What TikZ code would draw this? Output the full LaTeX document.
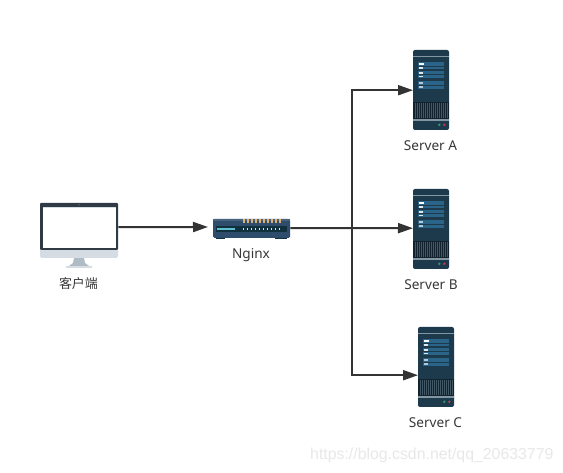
\documentclass[tikz,border=0pt]{standalone}
\usepackage{fontspec}
\setmainfont{Noto Sans}
\newfontfamily\cjkfont{Noto Sans CJK SC}
\newfontfamily\wmfont{Liberation Sans}
\usetikzlibrary{arrows.meta,calc}
\definecolor{srvbody}{HTML}{1D3A4C}
\definecolor{srvline}{HTML}{8397A2}
\definecolor{srvpanel}{HTML}{2A6488}
\definecolor{srvgrille}{HTML}{12222E}
\definecolor{monframe}{HTML}{2F3A45}
\definecolor{monchin}{HTML}{D5DCE4}
\definecolor{monstand}{HTML}{B0BCC5}
\definecolor{swbody}{HTML}{2E4C6C}
\definecolor{swdark}{HTML}{10303E}
\definecolor{swtop}{HTML}{46647F}
\definecolor{swled}{HTML}{E0B070}
\definecolor{ledgreen}{HTML}{2E9E6E}
\definecolor{ledred}{HTML}{C23A55}
\definecolor{wire}{HTML}{333333}
\tikzset{
  x=1pt,y=-1pt,
  lbl/.style={font=\fontsize{13.6}{15}\selectfont,text=black!78,inner sep=0pt,anchor=center},
  link/.style={draw=wire,line width=2pt,-{Triangle[length=15pt,width=10pt,fill=wire]}},
  trunk/.style={draw=wire,line width=2pt},
  server/.pic={
    \fill[srvbody,rounded corners=2pt] (0,0) rectangle (36,80);
    \fill[srvline] (0,6) rectangle (36,7.5);
    \fill[srvpanel] (5,12) rectangle (31,19.5);
    \fill[srvpanel] (5,21) rectangle (31,28);
    \fill[srvpanel] (5,31) rectangle (31,39);
    \fill[srvbody] (5,15.6) rectangle (31,16.2);
    \fill[srvbody] (5,24.2) rectangle (31,24.8);
    \fill[srvbody] (5,34.7) rectangle (31,35.3);
    \fill[white] (5.5,13.2) rectangle (11,14.8);
    \fill[white!85!srvpanel] (5.5,17) rectangle (10,18.6);
    \fill[white!85!srvpanel] (5.5,22) rectangle (10,23.6);
    \fill[white!85!srvpanel] (5.5,25.8) rectangle (10,27.4);
    \fill[white!65!srvpanel] (5.5,32.4) rectangle (10,34);
    \fill[white!65!srvpanel] (5.5,36.2) rectangle (10,37.8);
    \fill[srvgrille] (0,52) rectangle (36,69);
    \foreach \gx in {1.5,3.5,...,33.5} {\fill[srvbody!80!white!90!black] (\gx,53) rectangle ++(0.6,15);}
    \fill[srvline] (0,69) rectangle (36,71);
    \fill[ledgreen] (26.3,74.8) circle (1.3);
    \fill[ledred] (31.3,74.8) circle (1.3);
  },
}
\begin{document}
\begin{tikzpicture}
\useasboundingbox (0,0) rectangle (563,473);
\fill[white] (0,0) rectangle (563,473);

% Client monitor
\begin{scope}[shift={(40,203)}]
  \fill[monstand] (34,55) -- (44,55) -- (45,60) -- (49,63) -- (29,63) -- (33,60) -- cycle;
  \fill[monchin] (26,63) rectangle (52,65);
  \fill[monchin,rounded corners=1.5pt] (0,45) rectangle (78,55);
  \fill[monframe,rounded corners=1pt] (0,0) rectangle (78,47);
  \fill[white] (2.5,4) rectangle (75.5,45.5);
  \fill[monchin] (2.5,3.6) rectangle (75.5,4.2);
  \fill[gray] (39,1.8) circle (0.7);
\end{scope}
\node[inner sep=0pt,minimum width=78pt,minimum height=48pt,anchor=north west] (client) at (40,203) {};
\node[lbl,font=\cjkfont\fontsize{13}{15}\selectfont] (clientlabel) at (78.5,284) {客户端};

% Nginx switch
\begin{scope}[shift={(213,219)}]
  \fill[swdark] (3,17) rectangle (12,20);
  \fill[swdark] (62,17) rectangle (74,20);
  \fill[swbody,rounded corners=1.5pt] (0,0) rectangle (77,19);
  \fill[swtop] (0,0.5) rectangle (77,2);
  \fill[swdark] (3,7) rectangle (74,13);
  \fill[srvpanel!60!cyan!70!white] (4,9) rectangle (22,11.3);
  \foreach \lx in {30,34,...,66} {
    \fill[swled] (\lx,0.5) rectangle ++(1.5,3.5);
  }
  \foreach \lx in {30,34,...,66} {
    \fill[white!75!cyan] (\lx,9.5) rectangle ++(1.2,1.2);
  }
\end{scope}
\node[inner sep=0pt,minimum width=77pt,minimum height=18pt,anchor=north west] (nginx) at (213,219) {};
\node[lbl] (nginxlabel) at (251,255) {Nginx};

% Servers
\pic at (413,50) {server};
\pic at (413,189) {server};
\pic at (418,327) {server};
\node[inner sep=0pt,minimum width=36pt,minimum height=80pt,anchor=north west] (serverA) at (413,50) {};
\node[inner sep=0pt,minimum width=36pt,minimum height=78pt,anchor=north west] (serverB) at (413,189) {};
\node[inner sep=0pt,minimum width=36pt,minimum height=96pt,anchor=north west] (serverC) at (418,327) {};
\node[lbl] (labelA) at (430.5,146) {Server A};
\node[lbl] (labelB) at (431,285) {Server B};
\node[lbl] (labelC) at (435.5,423) {Server C};

% Connectors
\coordinate (junction) at (352,228);
\coordinate (nginxin) at (208,227);
\draw[link] (client.east) -- (nginxin);
\draw[trunk] (nginx.east) -- (junction);
\draw[link] (junction) -- (serverB.west);
\draw[link] (junction) |- (serverA.west);
\draw[link] (junction) |- (serverC.west);

% Watermark
\node[font=\wmfont\fontsize{15.85}{18}\selectfont,text=black!9,inner sep=0pt,anchor=west] (wm) at (310,455) {https://blog.csdn.net/qq\_20633779};
\end{tikzpicture}
\end{document}
